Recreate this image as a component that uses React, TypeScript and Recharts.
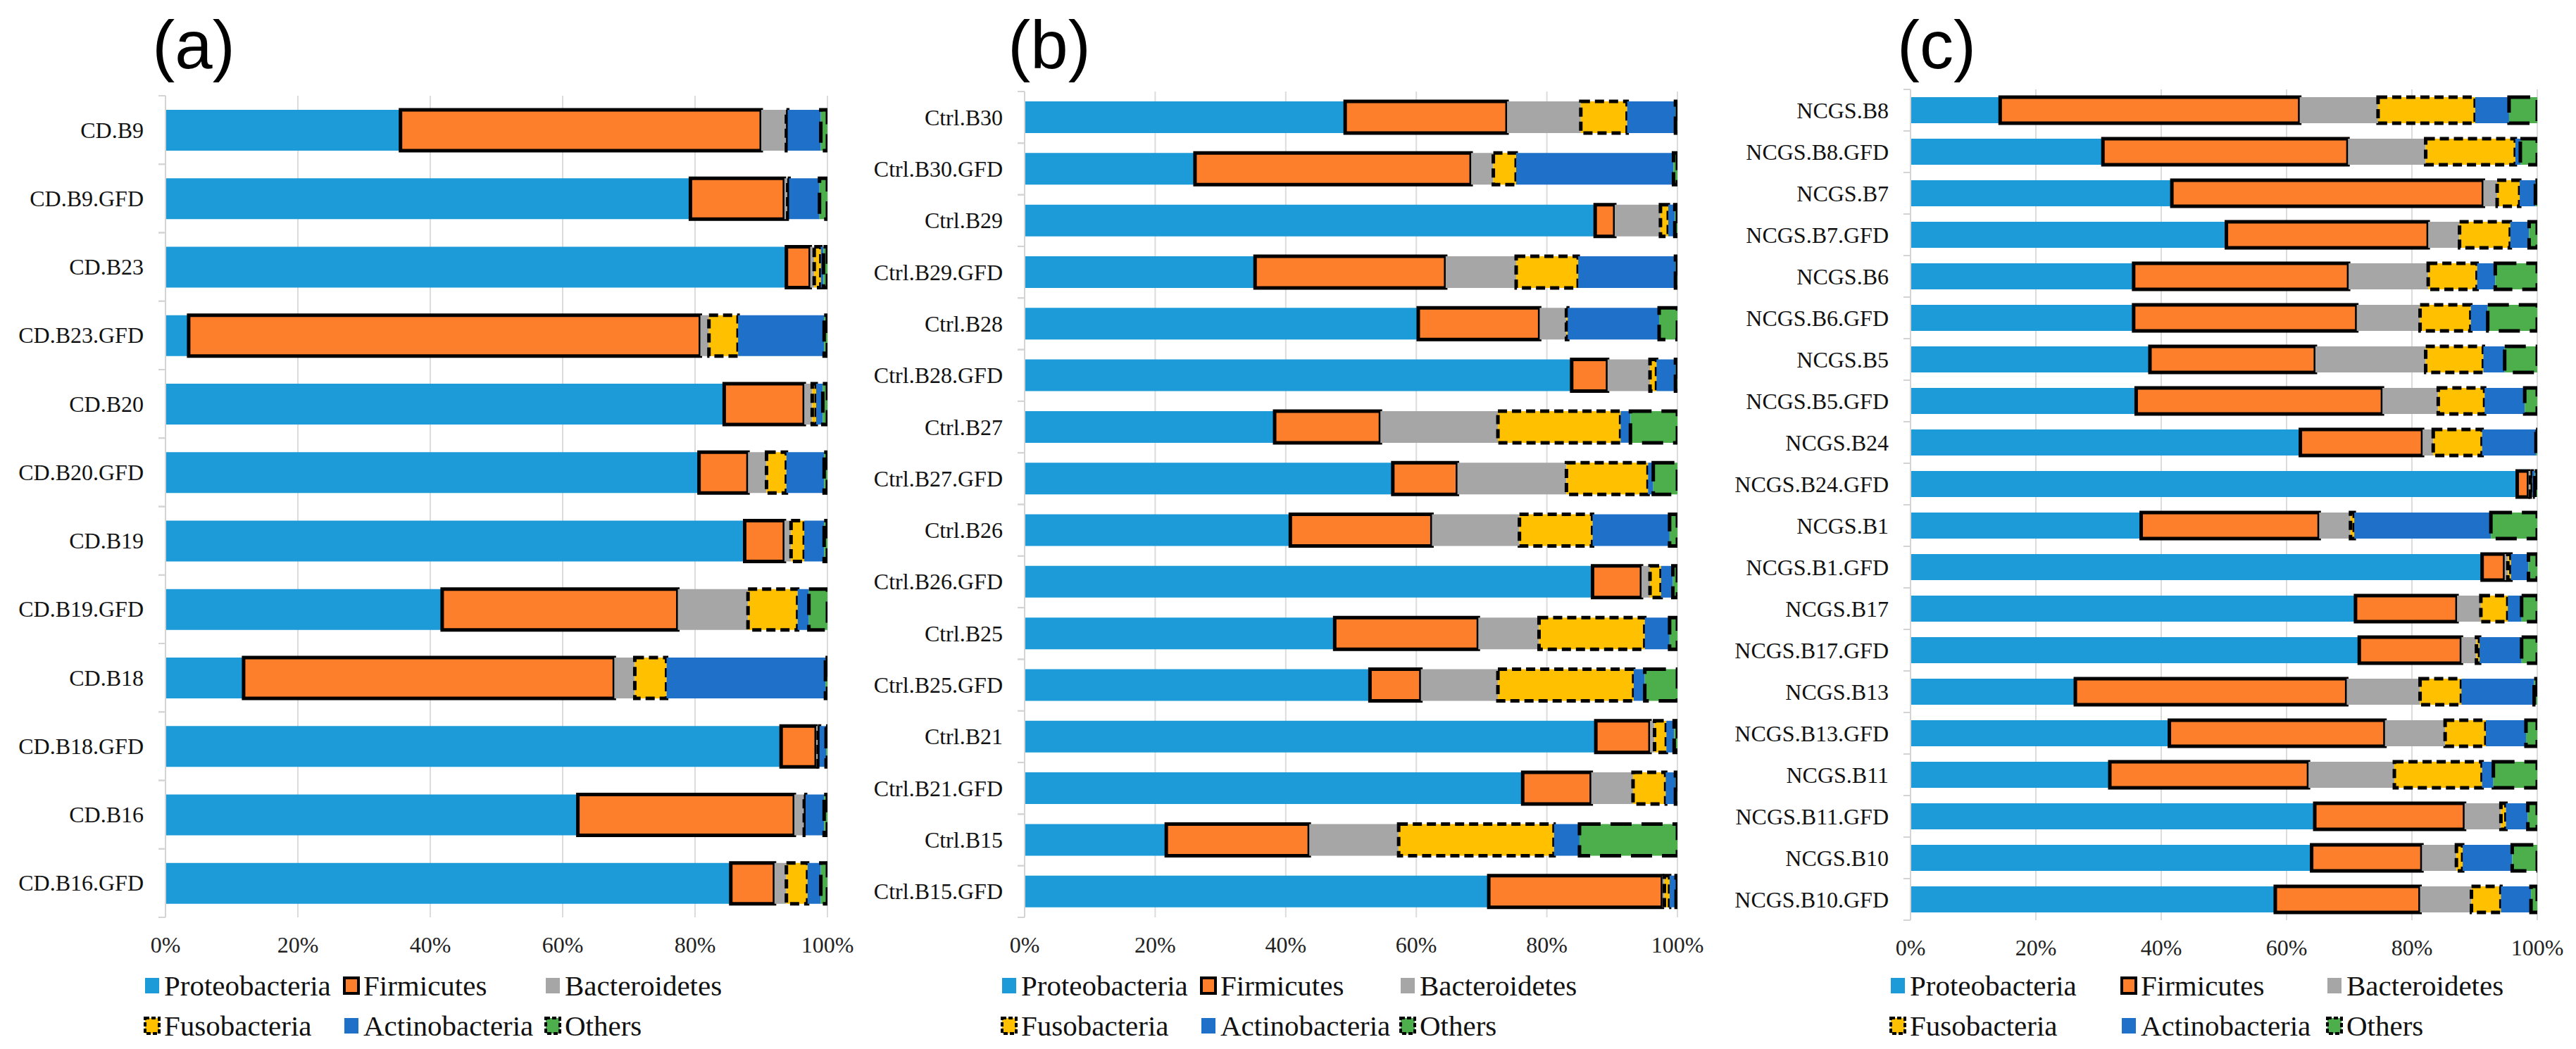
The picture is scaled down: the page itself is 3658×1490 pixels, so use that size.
import React from 'react';
import { BarChart, Bar, XAxis, YAxis, CartesianGrid } from 'recharts';

const phyla = ['Proteobacteria', 'Firmicutes', 'Bacteroidetes', 'Fusobacteria', 'Actinobacteria', 'Others'];
const xTicks = [0, 20, 40, 60, 80, 100];

// (a) CD patients
const cdSamples = ['CD.B9', 'CD.B9.GFD', 'CD.B23', 'CD.B23.GFD', 'CD.B20', 'CD.B20.GFD', 'CD.B19', 'CD.B19.GFD', 'CD.B18', 'CD.B18.GFD', 'CD.B16', 'CD.B16.GFD'];
const cdProteobacteria = [35.5, 79.3, 93.8, 3.5, 84.4, 80.6, 87.5, 41.8, 11.8, 93.0, 62.3, 85.4];
const cdFirmicutes = [54.5, 14.2, 3.6, 77.3, 12.1, 7.4, 6.0, 35.6, 56.0, 5.3, 32.7, 6.6];
const cdBacteroidetes = [3.8, 0.5, 0.6, 1.3, 1.2, 2.8, 1.0, 10.6, 3.1, 0.3, 1.5, 1.8];
const cdFusobacteria = [0.2, 0.2, 1.0, 4.4, 0.6, 3.0, 2.0, 7.5, 4.8, 0.2, 0.2, 3.2];
const cdActinobacteria = [5.0, 4.6, 0.4, 13.0, 1.0, 5.7, 3.0, 1.7, 24.0, 1.0, 2.8, 2.0];
const cdOthers = [1.0, 1.2, 0.6, 0.5, 0.7, 0.5, 0.5, 2.8, 0.3, 0.2, 0.5, 1.0];

// (b) controls
const ctrlSamples = ['Ctrl.B30', 'Ctrl.B30.GFD', 'Ctrl.B29', 'Ctrl.B29.GFD', 'Ctrl.B28', 'Ctrl.B28.GFD', 'Ctrl.B27', 'Ctrl.B27.GFD', 'Ctrl.B26', 'Ctrl.B26.GFD', 'Ctrl.B25', 'Ctrl.B25.GFD', 'Ctrl.B21', 'Ctrl.B21.GFD', 'Ctrl.B15', 'Ctrl.B15.GFD'];
const ctrlProteobacteria = [49.1, 26.1, 87.4, 35.3, 60.3, 83.8, 38.3, 56.4, 40.7, 87.0, 47.5, 52.9, 87.5, 76.3, 21.7, 71.1];
const ctrlFirmicutes = [24.8, 42.3, 3.0, 29.2, 18.6, 5.5, 16.2, 9.9, 21.7, 7.5, 22.0, 7.8, 8.3, 10.5, 21.9, 26.6];
const ctrlBacteroidetes = [11.3, 3.4, 7.0, 10.8, 4.1, 6.5, 18.0, 16.7, 13.4, 1.3, 9.3, 11.8, 0.7, 6.4, 13.7, 0.3];
const ctrlFusobacteria = [7.1, 3.5, 1.2, 9.5, 0.2, 1.0, 18.8, 12.5, 11.2, 1.7, 16.2, 20.8, 1.8, 5.0, 23.8, 0.8];
const ctrlActinobacteria = [7.4, 24.1, 1.0, 14.9, 14.0, 2.9, 1.5, 0.8, 11.8, 1.8, 3.8, 1.7, 1.2, 1.5, 3.9, 1.0];
const ctrlOthers = [0.3, 0.6, 0.4, 0.3, 2.8, 0.3, 7.2, 3.7, 1.2, 0.7, 1.2, 5.0, 0.5, 0.3, 15.0, 0.2];

// (c) NCGS patients
const ncgsSamples = ['NCGS.B8', 'NCGS.B8.GFD', 'NCGS.B7', 'NCGS.B7.GFD', 'NCGS.B6', 'NCGS.B6.GFD', 'NCGS.B5', 'NCGS.B5.GFD', 'NCGS.B24', 'NCGS.B24.GFD', 'NCGS.B1', 'NCGS.B1.GFD', 'NCGS.B17', 'NCGS.B17.GFD', 'NCGS.B13', 'NCGS.B13.GFD', 'NCGS.B11', 'NCGS.B11.GFD', 'NCGS.B10', 'NCGS.B10.GFD'];
const ncgsProteobacteria = [14.3, 30.7, 41.7, 50.4, 35.6, 35.6, 38.2, 36.0, 62.2, 96.8, 36.8, 91.2, 71.0, 71.6, 26.3, 41.3, 31.8, 64.5, 64.0, 58.2];
const ncgsFirmicutes = [47.8, 39.1, 49.7, 32.2, 34.3, 35.6, 26.4, 39.3, 19.5, 1.8, 28.4, 3.6, 16.2, 16.3, 43.3, 34.4, 31.7, 23.9, 17.6, 23.1];
const ncgsBacteroidetes = [12.5, 12.4, 2.2, 5.0, 12.7, 10.1, 17.6, 8.9, 1.7, 0.3, 5.0, 0.5, 3.8, 2.4, 11.7, 9.6, 13.7, 5.8, 5.5, 8.2];
const ncgsFusobacteria = [15.5, 14.3, 3.6, 8.1, 7.8, 8.1, 9.2, 7.4, 7.8, 0.3, 0.6, 0.5, 4.3, 0.5, 6.6, 6.5, 14.0, 0.8, 1.0, 4.7];
const ncgsActinobacteria = [5.4, 0.8, 2.5, 3.0, 2.9, 2.7, 3.4, 6.4, 8.6, 0.4, 21.8, 2.8, 2.2, 6.7, 11.6, 6.4, 1.8, 3.5, 7.9, 4.8];
const ncgsOthers = [4.5, 2.7, 0.3, 1.3, 6.7, 7.9, 5.2, 2.0, 0.2, 0.4, 7.4, 1.4, 2.5, 2.5, 0.5, 1.8, 7.0, 1.5, 4.0, 1.0];

const seriesStyle: Record<string, { fill: string; stroke?: string; dash?: string }> = {
  Proteobacteria: { fill: '#1C9BD8' },
  Firmicutes: { fill: '#FD7E2B', stroke: '#000' },
  Bacteroidetes: { fill: '#A6A6A6' },
  Fusobacteria: { fill: '#FFC000', stroke: '#000', dash: '13 7' },
  Actinobacteria: { fill: '#1F70C8' },
  Others: { fill: '#4CAF4C', stroke: '#000', dash: '30 14' },
};

const serif = '"Liberation Serif", "Times New Roman", serif';

function buildRows(samples: string[], cols: number[][]) {
  return samples.map((name, i) => {
    const row: Record<string, string | number> = { name };
    phyla.forEach((p, j) => {
      row[p] = cols[j][i];
    });
    return row;
  });
}

const cdData = buildRows(cdSamples, [cdProteobacteria, cdFirmicutes, cdBacteroidetes, cdFusobacteria, cdActinobacteria, cdOthers]);
const ctrlData = buildRows(ctrlSamples, [ctrlProteobacteria, ctrlFirmicutes, ctrlBacteroidetes, ctrlFusobacteria, ctrlActinobacteria, ctrlOthers]);
const ncgsData = buildRows(ncgsSamples, [ncgsProteobacteria, ncgsFirmicutes, ncgsBacteroidetes, ncgsFusobacteria, ncgsActinobacteria, ncgsOthers]);

const PercentTick = (props: any) => {
  const { x, y, payload } = props;
  return (
    <text x={x} y={y + 39} textAnchor="middle" dominantBaseline="central" fontFamily={serif} fontSize={32} fill="#222">
      {payload.value}%
    </text>
  );
};

const CategoryTick = (props: any) => {
  const { x, y, payload, band } = props;
  return (
    <g>
      <line x1={x - 10} x2={x} y1={y - band / 2} y2={y - band / 2} stroke="#d4d4d4" strokeWidth={2} />
      <line x1={x - 10} x2={x} y1={y + band / 2} y2={y + band / 2} stroke="#d4d4d4" strokeWidth={2} />
      <text x={x - 31} y={y} textAnchor="end" dominantBaseline="central" fontFamily={serif} fontSize={32} fill="#111">
        {payload.value}
      </text>
    </g>
  );
};

function Swatch({ phylum }: { phylum: string }) {
  const s = seriesStyle[phylum];
  return (
    <svg width={26} height={32} style={{ flex: 'none' }}>
      <rect
        x={3}
        y={5}
        width={20}
        height={22}
        fill={s.fill}
        stroke={s.stroke ?? 'none'}
        strokeWidth={s.stroke ? 4 : 0}
        strokeDasharray={s.dash ? '6 3' : undefined}
      />
    </svg>
  );
}

function Legend({ columns }: { columns: number[] }) {
  const rows = [1400, 1457];
  return (
    <>
      {phyla.map((p, i) => (
        <div
          key={p}
          style={{
            position: 'absolute',
            left: columns[i % 3],
            top: rows[Math.floor(i / 3)] - 25,
            height: 50,
            display: 'flex',
            alignItems: 'center',
            whiteSpace: 'nowrap',
          }}
        >
          <Swatch phylum={p} />
          <span style={{ fontFamily: serif, fontSize: 41, lineHeight: '50px', marginLeft: 4, color: '#111' }}>{p}</span>
        </div>
      ))}
    </>
  );
}

type PanelProps = {
  data: Record<string, string | number>[];
  left: number;
  axisWidth: number;
  plotTop: number;
  plotRight: number;
  plotBottom: number;
  barSize: number;
};

function Panel({ data, left, axisWidth, plotTop, plotRight, plotBottom, barSize }: PanelProps) {
  const chartWidth = plotRight + 60;
  const chartHeight = 1380;
  const band = (plotBottom - plotTop) / data.length;
  return (
    <div style={{ position: 'absolute', left, top: 0 }}>
      <BarChart
        width={chartWidth}
        height={chartHeight}
        data={data}
        layout="vertical"
        barSize={barSize}
        margin={{ top: plotTop, right: chartWidth - plotRight, bottom: chartHeight - plotBottom - 60, left: 0 }}
      >
        <CartesianGrid horizontal={false} stroke="#dcdcdc" strokeWidth={2} />
        <XAxis
          type="number"
          domain={[0, 100]}
          ticks={xTicks}
          interval={0}
          allowDataOverflow
          height={60}
          axisLine={false}
          tickLine={false}
          tickSize={0}
          tickMargin={0}
          tick={<PercentTick />}
        />
        <YAxis
          type="category"
          dataKey="name"
          width={axisWidth}
          interval={0}
          axisLine={{ stroke: '#d4d4d4', strokeWidth: 2 }}
          tickLine={false}
          tickSize={0}
          tickMargin={0}
          tick={(p: any) => <CategoryTick {...p} band={band} />}
        />
        {phyla.map((p) => {
          const s = seriesStyle[p];
          return (
            <Bar
              key={p}
              dataKey={p}
              stackId="phyla"
              fill={s.fill}
              stroke={s.stroke}
              strokeWidth={s.stroke ? 5 : 0}
              strokeDasharray={s.dash}
              isAnimationActive={false}
            />
          );
        })}
      </BarChart>
    </div>
  );
}

function Title({ label, center }: { label: string; center: number }) {
  return (
    <div
      style={{
        position: 'absolute',
        left: center - 100,
        width: 200,
        top: 16,
        textAlign: 'center',
        fontFamily: '"Liberation Sans", Arial, sans-serif',
        fontSize: 96,
        lineHeight: 1,
        color: '#000',
      }}
    >
      {label}
    </div>
  );
}

export default function App() {
  return (
    <div style={{ position: 'absolute', left: 0, top: 0, width: 3658, height: 1490, background: '#fff', overflow: 'hidden' }}>
      <Panel data={cdData} left={0} axisWidth={235} plotTop={136} plotRight={1175} plotBottom={1303} barSize={58} />
      <Panel data={ctrlData} left={1200} axisWidth={255} plotTop={130} plotRight={1182} plotBottom={1303} barSize={45} />
      <Panel data={ncgsData} left={2440} axisWidth={273} plotTop={127} plotRight={1163} plotBottom={1307} barSize={37} />
      <Title label="(a)" center={275} />
      <Title label="(b)" center={1490} />
      <Title label="(c)" center={2750} />
      <Legend columns={[203, 486, 772]} />
      <Legend columns={[1420, 1703, 1986]} />
      <Legend columns={[2682, 3010, 3302]} />
    </div>
  );
}
